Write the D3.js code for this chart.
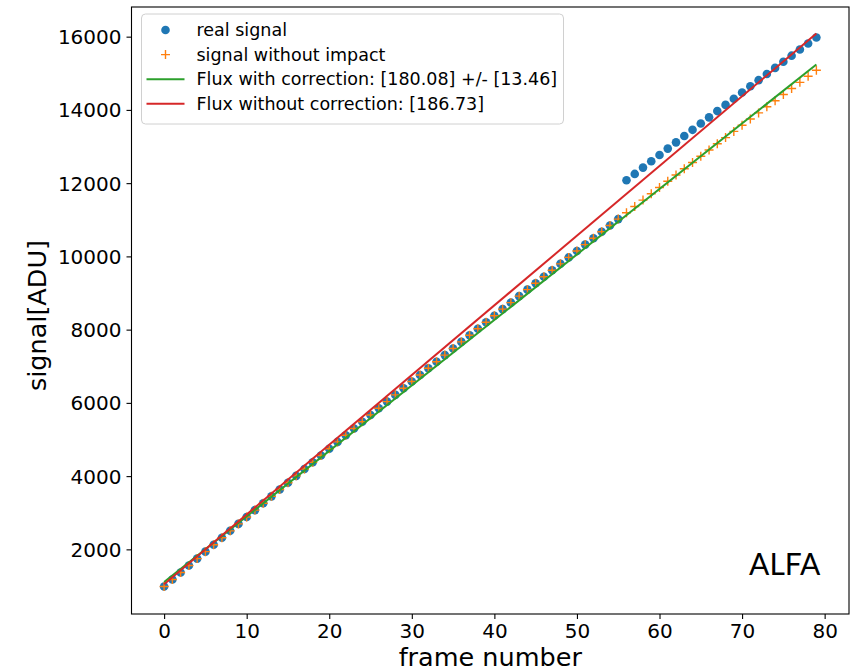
<!DOCTYPE html>
<html>
<head>
<meta charset="utf-8">
<script src="https://cdn.jsdelivr.net/npm/d3@7"></script>
<style>
  body { margin: 0; background: #fff; }
  text { font-family: "DejaVu Sans", sans-serif; }
</style>
</head>
<body>
<div class="chart"></div>
<script>
// values
var frames = d3.range(80)
var realSignal = [985, 1176, 1367, 1558, 1748, 1938, 2128, 2317, 2506, 2695,
    2884, 3072, 3259, 3447, 3634, 3820, 4007, 4193, 4379, 4564,
    4749, 4934, 5118, 5302, 5486, 5669, 5852, 6035, 6218, 6400,
    6582, 6763, 6944, 7125, 7305, 7485, 7665, 7845, 8024, 8203,
    8381, 8559, 8737, 8914, 9092, 9268, 9445, 9621, 9797, 9972,
    10148, 10322, 10497, 10671, 10845, 11018, 12078, 12252, 12425, 12598,
    12770, 12943, 13114, 13286, 13456, 13627, 13797, 13968, 14137, 14306,
    14476, 14644, 14812, 14980, 15147, 15314, 15481, 15648, 15814, 15976]
var signalNoImpact = [985, 1176, 1367, 1558, 1748, 1938, 2128, 2317, 2506, 2695,
    2884, 3072, 3259, 3447, 3634, 3820, 4007, 4193, 4379, 4564,
    4749, 4934, 5118, 5302, 5486, 5669, 5852, 6035, 6218, 6400,
    6582, 6763, 6944, 7125, 7305, 7485, 7665, 7845, 8024, 8203,
    8381, 8559, 8737, 8914, 9092, 9268, 9445, 9621, 9797, 9972,
    10148, 10322, 10497, 10671, 10845, 11018, 11192, 11364, 11537, 11709,
    11881, 12053, 12224, 12395, 12565, 12735, 12905, 13075, 13244, 13413,
    13582, 13750, 13918, 14085, 14252, 14419, 14586, 14752, 14918, 15084]
var fitFrames = [0, 79]
var fitWithCorr = [1110, 15240]
var fitWithoutCorr = [1050, 16085]
var xTicks = [0, 10, 20, 30, 40, 50, 60, 70, 80]
var yTicks = [2000, 4000, 6000, 8000, 10000, 12000, 14000, 16000]
var legendLabels = ["real signal", "signal without impact",
    "Flux with correction: [180.08] +/- [13.46]", "Flux without correction: [186.73]"]

var W = 859, H = 671
var margin = {top: 7, right: 10, bottom: 57, left: 131.5}
var width = W - margin.left - margin.right
var height = H - margin.top - margin.bottom

var blue = "#1f77b4", orange = "#ff7f0e", green = "#2ca02c", red = "#d62728"

var xScale = d3.scaleLinear().domain([-3.95, 82.95]).range([0, width])
var yScale = d3.scaleLinear().domain([235, 16810]).range([height, 0])

var svg = d3.select(".chart")
    .append("svg")
        .attr("width", W)
        .attr("height", H)
    .append("g")
        .attr("transform", "translate(" + margin.left + "," + margin.top + ")")

var xAxis = d3.axisBottom(xScale).tickValues(xTicks).tickSize(5).tickPadding(5).tickFormat(d3.format("d"))
var yAxis = d3.axisLeft(yScale).tickValues(yTicks).tickSize(5).tickPadding(5).tickFormat(d3.format("d"))

svg.append("g")
    .attr("transform", "translate(0," + height + ")")
    .call(xAxis)
    .call(g => g.select(".domain").remove())
    .selectAll("text").attr("font-size", 20).attr("fill", "#000")

svg.append("g")
    .call(yAxis)
    .call(g => g.select(".domain").remove())
    .selectAll("text").attr("font-size", 20).attr("fill", "#000").attr("dy", "0.35em")

svg.selectAll(".tick line").attr("stroke", "#000").attr("stroke-width", 1.1)

// markers
svg.selectAll(".dot")
    .data(frames)
    .enter().append("circle")
    .attr("class", "dot")
    .attr("cx", d => xScale(d))
    .attr("cy", d => yScale(realSignal[d]))
    .attr("r", 4.3)
    .attr("fill", blue)

svg.selectAll(".plus")
    .data(frames)
    .enter().append("path")
    .attr("class", "plus")
    .attr("d", "M-4.5,0H4.5M0,-4.5V4.5")
    .attr("transform", d => "translate(" + xScale(d) + "," + yScale(signalNoImpact[d]) + ")")
    .attr("stroke", orange)
    .attr("stroke-width", 1.4)
    .attr("fill", "none")

var line = d3.line().x((d, i) => xScale(fitFrames[i])).y(d => yScale(d))
svg.append("path").datum(fitWithCorr).attr("d", line)
    .attr("stroke", green).attr("stroke-width", 2).attr("fill", "none")
svg.append("path").datum(fitWithoutCorr).attr("d", line)
    .attr("stroke", red).attr("stroke-width", 2).attr("fill", "none")

// frame
svg.append("rect")
    .attr("width", width).attr("height", height)
    .attr("fill", "none").attr("stroke", "#000").attr("stroke-width", 1.1)

// legend
var lg = svg.append("g").attr("transform", "translate(10,7)")
lg.append("rect")
    .attr("width", 422).attr("height", 110).attr("rx", 4)
    .attr("fill", "rgba(255,255,255,0.8)").attr("stroke", "#d0d0d0").attr("stroke-width", 1)
legendLabels.forEach(function(lab, i) {
    var ly = 16 + i * 24.6
    var row = lg.append("g").attr("transform", "translate(0," + ly + ")")
    if (i == 0) {
        row.append("circle").attr("cx", 24).attr("cy", 0).attr("r", 4.3).attr("fill", blue)
    } else if (i == 1) {
        row.append("path").attr("d", "M19.5,0H28.5M24,-4.5V4.5")
            .attr("stroke", orange).attr("stroke-width", 1.4)
    } else {
        row.append("line").attr("x1", 5).attr("x2", 43)
            .attr("stroke", i == 2 ? green : red).attr("stroke-width", 2)
    }
    row.append("text").attr("x", 55).attr("dy", "0.35em")
        .attr("font-size", 17.5).attr("fill", "#000").text(lab)
})

// axis labels
svg.append("text")
    .attr("x", width / 2).attr("y", height + 52)
    .attr("text-anchor", "middle").attr("font-size", 25.5).attr("fill", "#000")
    .text("frame number")
svg.append("text")
    .attr("transform", "translate(" + (-86) + "," + (height / 2 + 5) + ") rotate(-90)")
    .attr("text-anchor", "middle").attr("font-size", 25.5).attr("fill", "#000")
    .text("signal[ADU]")

svg.append("text")
    .attr("x", xScale(79) + 4).attr("y", height - 39)
    .attr("text-anchor", "end").attr("font-size", 30)
    .style("font-family", "Lato, sans-serif").attr("fill", "#000")
    .text("ALFA")
</script>
</body>
</html>
